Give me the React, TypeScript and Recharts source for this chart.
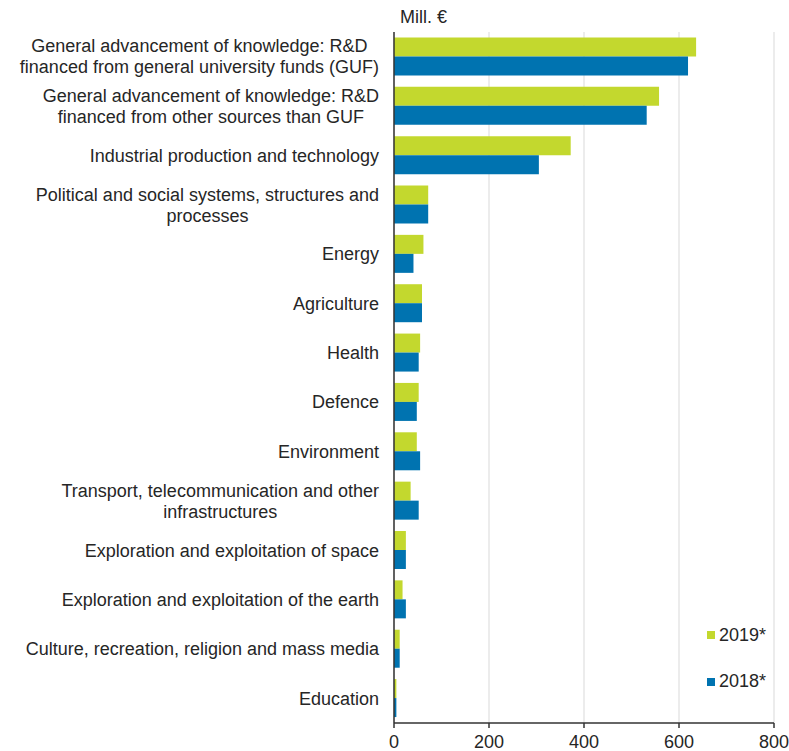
import React from "react";
import { BarChart, Bar, XAxis, YAxis, CartesianGrid } from "recharts";

const categories: string[] = [
  "General advancement of knowledge: R&D\nfinanced from general university funds (GUF)",
  "General advancement of knowledge: R&D\nfinanced from other sources than GUF",
  "Industrial production and technology",
  "Political and social systems, structures and\nprocesses",
  "Energy",
  "Agriculture",
  "Health",
  "Defence",
  "Environment",
  "Transport, telecommunication and other\ninfrastructures",
  "Exploration and exploitation of space",
  "Exploration and exploitation of the earth",
  "Culture, recreation, religion and mass media",
  "Education",
];

const values2019: number[] = [636, 558, 372, 72, 62, 59, 55, 52, 48, 35, 25, 18, 12, 5];
const values2018: number[] = [619, 532, 305, 72, 41, 59, 52, 48, 55, 52, 25, 25, 12, 5];

const xTicks: number[] = [0, 200, 400, 600, 800];

const seriesNames = ["2019*", "2018*"];
const seriesColors = ["#c3d82e", "#0073b0"];

const data = categories.map((name, i) => ({
  name,
  v2019: values2019[i],
  v2018: values2018[i],
}));

const FONT = "'Liberation Sans', Arial, sans-serif";
const TEXT_COLOR = "#262626";

let ctx: CanvasRenderingContext2D | null = null;
function measure(s: string): number {
  if (!ctx) {
    const c = document.createElement("canvas");
    ctx = c.getContext("2d");
  }
  if (!ctx) return s.length * 9;
  ctx.font = "18px 'Liberation Sans', Arial, sans-serif";
  return ctx.measureText(s).width;
}

const CategoryTick = (props: any) => {
  const { y, payload } = props;
  const lines = String(payload.value).split("\n");
  const right = 379;
  const blockW = Math.max(...lines.map(measure));
  const cx = right - blockW / 2;
  const lh = 21;
  const startY = y - ((lines.length - 1) * lh) / 2;
  return (
    <g>
      {lines.map((ln: string, i: number) => (
        <text
          key={i}
          x={cx}
          y={startY + i * lh}
          dy="0.35em"
          textAnchor="middle"
          fontSize={18}
          fontFamily={FONT}
          fill={TEXT_COLOR}
        >
          {ln}
        </text>
      ))}
    </g>
  );
};

const LegendBox = () => (
  <div
    style={{
      position: "absolute",
      left: 707,
      top: 624.5,
      fontFamily: FONT,
      fontSize: 18,
      color: TEXT_COLOR,
    }}
  >
    {seriesNames.map((n, i) => (
      <div
        key={n}
        style={{ display: "flex", alignItems: "center", height: 21, marginBottom: i === 0 ? 25.5 : 0 }}
      >
        <span
          style={{ display: "inline-block", width: 8, height: 8, background: seriesColors[i], marginRight: 4 }}
        />
        <span>{n}</span>
      </div>
    ))}
  </div>
);

export default function App() {
  return (
    <div style={{ position: "fixed", left: 0, top: 0, width: 789, height: 751, background: "#fff" }}>
      <div
        style={{
          position: "absolute",
          left: 400,
          top: 7,
          fontFamily: FONT,
          fontSize: 18,
          color: TEXT_COLOR,
          lineHeight: "21px",
        }}
      >
        Mill. €
      </div>
      <BarChart
        width={789}
        height={751}
        data={data}
        layout="vertical"
        margin={{ top: 32, right: 15, bottom: 0, left: 0 }}
        barCategoryGap="11%"
        barGap={0}
      >
        <CartesianGrid horizontal={false} vertical={true} stroke="#d9d9d9" strokeWidth={1} />
        <XAxis
          type="number"
          domain={[0, 800]}
          ticks={xTicks}
          interval={0}
          height={28}
          axisLine={{ stroke: "#333", strokeWidth: 1.5 }}
          tickLine={{ stroke: "#333", strokeWidth: 1.5 }}
          tickSize={5}
          tickMargin={7}
          tick={{ fontSize: 18, fontFamily: FONT, fill: TEXT_COLOR }}
        />
        <YAxis
          type="category"
          dataKey="name"
          width={394}
          interval={0}
          tickLine={false}
          axisLine={{ stroke: "#333", strokeWidth: 1.5 }}
          tick={<CategoryTick />}
        />
        <Bar dataKey="v2019" name={seriesNames[0]} fill={seriesColors[0]} isAnimationActive={false} />
        <Bar dataKey="v2018" name={seriesNames[1]} fill={seriesColors[1]} isAnimationActive={false} />
      </BarChart>
      <LegendBox />
    </div>
  );
}
